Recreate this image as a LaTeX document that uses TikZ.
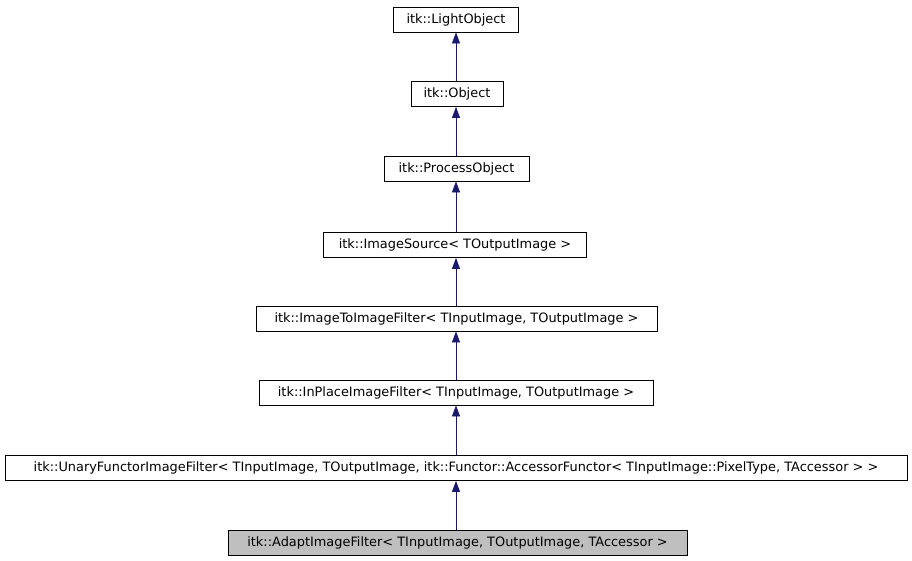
\documentclass[tikz,border=0pt]{standalone}
\usepackage{fontspec}
\setmainfont{DejaVu Sans}
\usetikzlibrary{arrows.meta}
\definecolor{edgeblue}{HTML}{191970}

\begin{document}
\begin{tikzpicture}[%
      x=1pt, y=-1pt,
      cls/.style={draw=black, line width=0.8pt, fill=white, minimum height=25pt,
        inner sep=0pt, font=\fontsize{12.9}{14}\selectfont},
      inherit/.style={color=edgeblue, line width=0.8pt,
        -{Triangle[length=11pt, width=8pt]}},
      ]
      \useasboundingbox (0,0) rectangle (912,560);

      \node [cls, minimum width=125pt] (lightobj) at (456,19.5) {itk::LightObject};
      \node [cls, minimum width=92pt] (obj) at (457,94) {itk::Object};
      \node [cls, minimum width=145pt] (procobj) at (456.5,168.5) {itk::ProcessObject};
      \node [cls, minimum width=263pt] (imgsrc) at (455,245) {itk::ImageSource< TOutputImage >};
      \node [cls, minimum width=401pt] (img2img) at (456.5,318.5) {itk::ImageToImageFilter< TInputImage, TOutputImage >};
      \node [cls, minimum width=394pt] (inplace) at (456,392.5) {itk::InPlaceImageFilter< TInputImage, TOutputImage >};
      \node [cls, minimum width=902pt] (unary) at (456,468) {itk::UnaryFunctorImageFilter< TInputImage, TOutputImage, itk::Functor::AccessorFunctor< TInputImage::PixelType, TAccessor > >};
      \node [cls, minimum width=459pt, fill=black!25] (adapt) at (457.5,542.5) {itk::AdaptImageFilter< TInputImage, TOutputImage, TAccessor >};

      \draw [inherit] (adapt.north -| 456,0) -- (unary.south -| 456,0);
      \draw [inherit] (unary.north -| 456,0) -- (inplace.south -| 456,0);
      \draw [inherit] (inplace.north -| 456,0) -- (img2img.south -| 456,0);
      \draw [inherit] (img2img.north -| 456,0) -- (imgsrc.south -| 456,0);
      \draw [inherit] (imgsrc.north -| 456,0) -- (procobj.south -| 456,0);
      \draw [inherit] (procobj.north -| 456,0) -- (obj.south -| 456,0);
      \draw [inherit] (obj.north -| 456,0) -- (lightobj.south -| 456,0);
\end{tikzpicture}
\end{document}
